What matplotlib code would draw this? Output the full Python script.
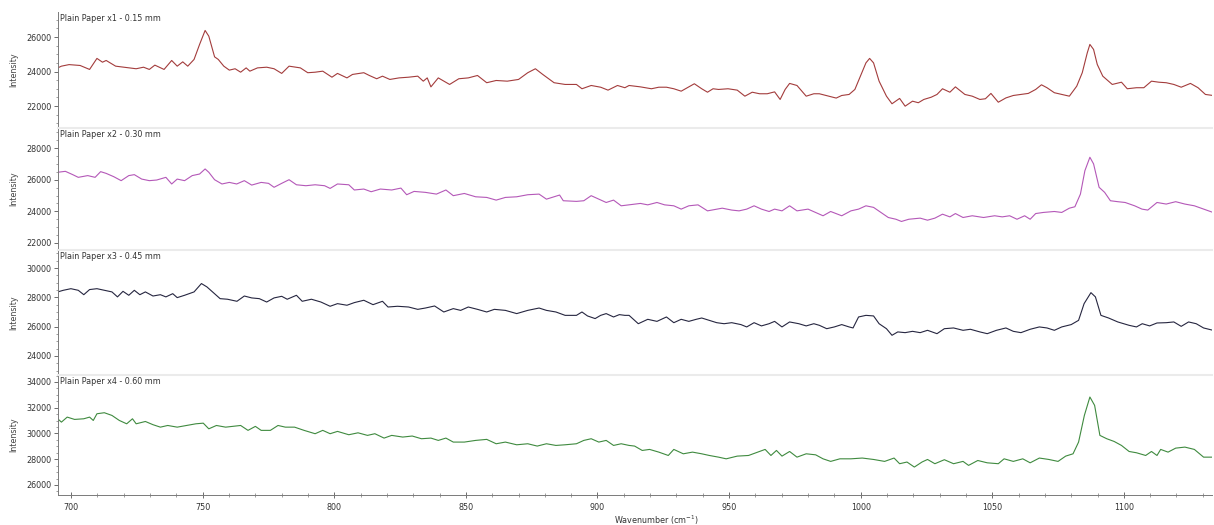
import matplotlib
matplotlib.use("Agg")
import matplotlib.pyplot as plt
from matplotlib.ticker import AutoMinorLocator, MultipleLocator

# ---- data (wavenumber cm-1, intensity) ----
wn1 = [694.9, 696.3, 699.2, 703.4, 707.0, 709.8, 711.9, 713.3, 716.9, 721.9, 724.7, 727.5, 729.7, 731.8,
       735.3, 738.2, 740.3, 742.4, 744.3, 746.7, 748.8, 750.9, 752.3, 754.5, 755.9, 758.0, 760.1, 762.3,
       764.4, 766.5, 767.9, 770.8, 774.3, 777.1, 780.0, 782.8, 787.1, 789.9, 792.7, 795.6, 799.1, 801.2,
       804.8, 806.9, 811.2, 813.3, 816.1, 818.3, 821.1, 824.6, 828.2, 831.7, 833.8, 835.3, 836.7, 839.5,
       843.8, 847.3, 850.9, 854.4, 857.9, 861.5, 865.7, 870.0, 873.5, 876.4, 879.2, 883.5, 887.7, 892.0,
       894.1, 897.6, 901.2, 904.0, 907.6, 910.4, 912.0, 916.3, 920.5, 923.3, 926.2, 929.0, 931.8, 934.7,
       936.8, 939.6, 941.8, 943.9, 946.0, 949.6, 953.1, 956.0, 958.8, 961.6, 964.5, 967.3, 969.4, 971.3,
       973.0, 975.8, 979.3, 982.2, 984.3, 987.8, 990.7, 992.8, 995.6, 997.8, 999.9, 1002.0, 1003.4, 1004.9,
       1007.0, 1009.8, 1011.9, 1014.8, 1016.9, 1019.7, 1021.9, 1024.0, 1026.8, 1029.0, 1031.1, 1033.9,
       1036.0, 1039.6, 1042.4, 1045.3, 1047.4, 1049.5, 1052.3, 1055.2, 1058.0, 1060.9, 1063.7, 1066.5,
       1068.7, 1070.8, 1073.6, 1076.4, 1079.3, 1082.1, 1084.2, 1086.1, 1087.1, 1088.5, 1089.9, 1092.0,
       1095.6, 1099.1, 1101.3, 1104.8, 1107.6, 1110.5, 1113.3, 1116.1, 1119.0, 1121.8, 1125.3, 1128.2,
       1131.0, 1133.9]
int1 = [24210, 24310, 24400, 24350, 24120, 24760, 24540, 24640, 24310, 24210, 24160, 24250, 24120, 24370,
        24120, 24640, 24310, 24560, 24310, 24700, 25570, 26380, 26050, 24850, 24700, 24310, 24080, 24160,
        23960, 24210, 24020, 24210, 24250, 24160, 23890, 24310, 24210, 23930, 23960, 24020, 23670, 23890,
        23630, 23830, 23930, 23770, 23580, 23730, 23540, 23630, 23670, 23730, 23440, 23630, 23110, 23630,
        23250, 23580, 23630, 23770, 23350, 23480, 23440, 23540, 23930, 24160, 23830, 23350, 23250, 23250,
        23000, 23190, 23090, 22920, 23190, 23060, 23190, 23110, 23000, 23090, 23090, 23000, 22860, 23110,
        23290, 23000, 22800, 23000, 22960, 23000, 22920, 22570, 22800, 22710, 22710, 22820, 22380, 22960,
        23310, 23190, 22570, 22710, 22710, 22570, 22460, 22610, 22670, 22960, 23730, 24500, 24760, 24500,
        23440, 22570, 22130, 22440, 21990, 22280, 22190, 22380, 22510, 22670, 23000, 22800,
        23110, 22670, 22570, 22380, 22420, 22730, 22220, 22470, 22610, 22670, 22730, 22960,
        23230, 23060, 22770, 22670, 22570, 23150, 23930, 25080, 25570, 25280, 24410, 23730,
        23250, 23380, 23000, 23060, 23060, 23440, 23380, 23350, 23250, 23090, 23310, 23060,
        22670, 22610]

wn2 = [694.9, 697.8, 700.6, 702.7, 706.3, 709.1, 711.2, 713.3, 716.2, 719.0, 721.9, 724.0, 726.8, 729.7,
       732.5, 736.0, 738.2, 740.3, 743.1, 746.0, 748.8, 750.9, 752.3, 754.5, 757.3, 760.1, 762.9, 765.8,
       768.6, 772.2, 775.0, 777.1, 780.0, 782.8, 785.6, 789.2, 792.7, 796.3, 798.4, 801.2, 805.5, 807.6,
       811.2, 814.0, 817.5, 821.8, 825.3, 827.5, 830.3, 834.6, 838.8, 842.4, 845.2, 849.4, 853.7, 857.9,
       861.5, 865.0, 869.3, 873.5, 877.8, 880.6, 885.6, 887.0, 892.0, 894.8, 897.6, 900.5, 903.3, 906.1,
       909.0, 912.0, 916.3, 919.1, 922.6, 925.5, 929.0, 931.8, 934.7, 938.2, 941.8, 945.3, 947.4, 951.0,
       953.8, 956.7, 959.5, 962.3, 965.2, 967.3, 970.1, 973.0, 975.8, 980.0, 982.9, 985.7, 988.6, 992.8,
       996.3, 999.2, 1002.0, 1004.9, 1007.7, 1010.5, 1013.4, 1015.5, 1018.3, 1022.6, 1025.4, 1028.2,
       1031.1, 1033.9, 1036.0, 1038.9, 1042.4, 1046.7, 1050.9, 1053.8, 1056.6, 1059.4, 1062.3, 1064.4,
       1066.5, 1069.4, 1073.6, 1076.4, 1079.3, 1081.4, 1083.5, 1085.2, 1087.1, 1088.5, 1090.6, 1092.7,
       1094.9, 1097.7, 1100.5, 1104.1, 1106.9, 1109.1, 1112.6, 1116.1, 1119.7, 1123.2, 1126.8, 1130.3,
       1133.9]
int2 = [26470, 26530, 26320, 26150, 26260, 26150, 26510, 26400, 26190, 25940, 26260, 26320, 26040, 25940,
        25980, 26150, 25730, 26040, 25940, 26260, 26360, 26680, 26470, 26000, 25730, 25830, 25730, 25940,
        25660, 25830, 25770, 25520, 25770, 26000, 25680, 25620, 25680, 25620, 25450, 25730, 25680, 25350,
        25410, 25240, 25410, 25350, 25470, 25050, 25260, 25200, 25090, 25350, 24990, 25130, 24920, 24880,
        24710, 24880, 24920, 25050, 25090, 24770, 25030, 24670, 24630, 24670, 24990, 24770, 24560, 24710,
        24350, 24410, 24500, 24410, 24560, 24410, 24350, 24140, 24350, 24410, 24030, 24140, 24200, 24080,
        24030, 24140, 24350, 24140, 23990, 24140, 24030, 24350, 24030, 24140, 23930, 23720, 23990, 23720,
        24030, 24140, 24350, 24250, 23930, 23610, 23500, 23360, 23500, 23570, 23440, 23570,
        23820, 23650, 23860, 23610, 23720, 23610, 23720, 23650, 23720, 23500, 23720, 23500,
        23860, 23930, 23990, 23930, 24200, 24290, 25090, 26570, 27420, 27000, 25520, 25200,
        24670, 24610, 24560, 24350, 24140, 24080, 24560, 24460, 24610, 24460, 24350, 24140,
        23930]

wn3 = [694.9, 697.0, 699.9, 702.7, 704.8, 707.0, 709.8, 712.6, 715.5, 717.6, 719.7, 721.9, 724.0, 726.1,
       728.2, 731.1, 733.9, 736.0, 738.6, 740.3, 743.1, 746.7, 749.5, 751.6, 754.5, 756.6, 759.4, 763.0,
       765.8, 768.6, 771.5, 774.3, 777.1, 780.0, 782.1, 785.6, 787.8, 791.3, 794.9, 798.4, 801.2, 804.8,
       807.6, 811.2, 814.7, 818.3, 820.4, 824.0, 828.2, 831.7, 834.6, 838.1, 841.6, 845.2, 848.0, 850.9,
       854.4, 857.9, 860.8, 865.0, 869.3, 873.5, 877.8, 880.6, 884.2, 887.7, 892.0, 894.1, 896.2, 899.1,
       901.2, 903.3, 906.1, 908.3, 910.4, 912.0, 915.5, 919.1, 922.6, 926.2, 929.0, 931.8, 934.7, 937.5,
       939.6, 942.5, 945.3, 948.1, 951.0, 954.5, 956.7, 959.5, 962.3, 965.2, 967.3, 970.1, 973.0, 976.5,
       979.3, 982.2, 984.3, 987.1, 990.0, 992.8, 995.6, 997.1, 999.2, 1002.0, 1004.9, 1007.0, 1009.8,
       1011.9, 1014.1, 1016.9, 1019.7, 1022.6, 1025.4, 1029.0, 1031.8, 1035.3, 1038.9, 1041.7, 1045.3,
       1048.1, 1051.6, 1055.2, 1058.0, 1060.9, 1064.4, 1067.9, 1070.8, 1073.6, 1076.4, 1080.0, 1082.8,
       1084.9, 1087.5, 1089.2, 1091.3, 1094.2, 1097.7, 1102.0, 1104.8, 1107.0, 1109.8, 1112.6, 1116.1,
       1119.0, 1121.8, 1124.6, 1127.5, 1130.3, 1133.9]
int3 = [28370, 28480, 28590, 28480, 28180, 28530, 28590, 28480, 28370, 28030, 28410, 28140, 28480, 28180,
        28370, 28090, 28180, 28030, 28250, 27980, 28140, 28370, 28940, 28710, 28250, 27910, 27870, 27730,
        28090, 27960, 27910, 27680, 27960, 28070, 27870, 28140, 27730, 27870, 27680, 27390, 27570, 27460,
        27640, 27800, 27500, 27730, 27340, 27390, 27340, 27180, 27270, 27410, 27000, 27230, 27110, 27340,
        27180, 27000, 27180, 27110, 26890, 27110, 27270, 27110, 27000, 26770, 26770, 27000, 26730, 26550,
        26770, 26890, 26660, 26820, 26770, 26770, 26200, 26500, 26360, 26660, 26270, 26500, 26360, 26500,
        26590, 26430, 26270, 26200, 26270, 26140, 25980, 26270, 26050, 26200, 26360, 25980, 26320, 26200,
        26050, 26200, 26090, 25860, 25980, 26140, 25980, 25910, 26660, 26770, 26730, 26200, 25860,
        25410, 25640, 25590, 25680, 25590, 25750, 25520, 25860, 25910, 25750, 25820, 25640,
        25520, 25750, 25910, 25680, 25590, 25820, 25980, 25910, 25750, 25980, 26140, 26430,
        27570, 28320, 28030, 26770, 26590, 26320, 26090, 25980, 26200, 26050, 26250, 26270,
        26320, 26020, 26320, 26200, 25910, 25750]

wn4 = [694.9, 696.3, 698.5, 701.3, 704.8, 707.0, 708.4, 709.8, 712.6, 715.5, 718.3, 721.1, 723.3, 724.7,
       728.2, 731.1, 733.9, 736.7, 740.3, 743.8, 747.4, 750.2, 752.3, 755.2, 758.7, 761.5, 764.4, 767.2,
       770.0, 772.2, 775.7, 778.6, 781.4, 784.9, 788.5, 792.7, 795.6, 798.4, 801.2, 805.5, 809.0, 812.6,
       815.4, 818.9, 821.8, 826.0, 829.6, 833.1, 836.7, 839.5, 842.4, 845.2, 849.4, 853.7, 857.9, 861.5,
       865.0, 869.3, 873.5, 877.1, 880.6, 884.2, 887.7, 892.0, 894.8, 897.6, 900.5, 903.3, 906.1, 909.0,
       912.0, 914.1, 917.0, 919.8, 923.3, 926.9, 929.0, 932.6, 936.1, 939.6, 942.5, 946.0, 948.9, 953.1,
       957.4, 960.2, 963.7, 965.9, 968.0, 970.1, 973.0, 975.8, 979.3, 982.9, 985.7, 988.6, 992.1, 996.3,
       1000.6, 1004.9, 1009.1, 1012.7, 1014.8, 1017.6, 1020.4, 1023.3, 1025.4, 1028.2, 1031.8, 1035.3,
       1038.9, 1041.0, 1044.5, 1048.1, 1052.3, 1054.5, 1058.0, 1061.6, 1064.4, 1067.9, 1071.5, 1075.0,
       1077.9, 1080.7, 1082.8, 1085.0, 1087.1, 1088.9, 1090.9, 1093.5, 1096.3, 1099.1, 1102.0, 1104.8,
       1108.3, 1110.5, 1112.6, 1114.0, 1116.8, 1119.7, 1123.2, 1126.8, 1130.3, 1133.9]
int4 = [31140, 30880, 31270, 31090, 31140, 31270, 31010, 31530, 31610, 31400, 31010, 30750, 31140, 30750,
        30930, 30680, 30490, 30620, 30490, 30620, 30750, 30800, 30360, 30620, 30490, 30550, 30620, 30240,
        30550, 30240, 30240, 30620, 30490, 30490, 30240, 29980, 30240, 29980, 30160, 29900, 30050, 29850,
        29980, 29640, 29850, 29720, 29800, 29590, 29640, 29460, 29640, 29330, 29330, 29460, 29540, 29200,
        29330, 29120, 29200, 29020, 29200, 29070, 29120, 29200, 29460, 29590, 29330, 29460, 29070, 29200,
        29070, 29020, 28680, 28760, 28550, 28290, 28760, 28420, 28550, 28420, 28290, 28160, 28030, 28240,
        28290, 28500, 28760, 28290, 28680, 28240, 28600, 28160, 28420, 28340, 28030, 27830, 28030, 28030,
        28090, 27980, 27830, 28090, 27650, 27780, 27390, 27780, 27980, 27650, 27960, 27650,
        27830, 27520, 27900, 27720, 27650, 28030, 27830, 28030, 27720, 28090, 27980, 27830,
        28240, 28420, 29330, 31400, 32830, 32180, 29850, 29590, 29380, 29070, 28600, 28500,
        28290, 28600, 28290, 28760, 28550, 28860, 28940, 28760, 28160, 28160]

titles = ["Plain Paper x1 - 0.15 mm", "Plain Paper x2 - 0.30 mm",
          "Plain Paper x3 - 0.45 mm", "Plain Paper x4 - 0.60 mm"]
series = [(wn1, int1), (wn2, int2), (wn3, int3), (wn4, int4)]
colors = ["#a33c3c", "#b458b8", "#262640", "#3f8a3f"]
ylims = [(20725, 27450), (21555, 29270), (22700, 31230), (25220, 34540)]
yticks = [[22000, 24000, 26000], [22000, 24000, 26000, 28000],
          [24000, 26000, 28000, 30000], [26000, 28000, 30000, 32000, 34000]]

# panel edges in pixels from top of the 525 px high figure
edges = [12, 128, 250, 375, 495]

plt.rcParams["font.family"] = "DejaVu Sans"
fig = plt.figure(figsize=(12.14, 5.25), dpi=100)
W, H = 1214.0, 525.0
left, right = 58 / W, 1212 / W

axes = []
for i in range(4):
    top = 1 - edges[i] / H
    bot = 1 - edges[i + 1] / H
    ax = fig.add_axes([left, bot, right - left, top - bot])
    wn, inten = series[i]
    ax.plot(wn, inten, color=colors[i], lw=0.8)
    ax.set_xlim(695, 1133.5)
    ax.set_ylim(*ylims[i])
    ax.set_yticks(yticks[i])
    ax.yaxis.set_minor_locator(AutoMinorLocator(4))
    ax.tick_params(axis="y", which="major", labelsize=5.8, length=3, width=0.6,
                   colors="#555555", labelcolor="#333333", pad=1.5)
    ax.tick_params(axis="y", which="minor", length=1.5, width=0.5, colors="#777777")
    ax.set_ylabel("Intensity", fontsize=5.8, color="#444444", labelpad=6)
    ax.spines["right"].set_visible(False)
    ax.spines["left"].set_color("#7a7a7a")
    ax.spines["left"].set_linewidth(0.7)
    if i == 0:
        ax.spines["top"].set_visible(False)
    else:
        ax.spines["top"].set_color("#ebebeb")
        ax.spines["top"].set_linewidth(1.5)
    ax.text(0.002, 0.985, titles[i], transform=ax.transAxes, ha="left", va="top",
            fontsize=5.8, color="#333333")
    ax.xaxis.set_major_locator(MultipleLocator(50))
    ax.xaxis.set_minor_locator(MultipleLocator(10))
    if i < 3:
        ax.spines["bottom"].set_visible(False)
        ax.tick_params(axis="x", which="both", bottom=False, labelbottom=False)
    else:
        ax.spines["bottom"].set_color("#7a7a7a")
        ax.spines["bottom"].set_linewidth(0.7)
        ax.tick_params(axis="x", which="major", direction="inout", length=5, width=0.6,
                       labelsize=5.8, colors="#555555", labelcolor="#333333", pad=3)
        ax.tick_params(axis="x", which="minor", direction="inout", length=2.5, width=0.5,
                       colors="#777777")
        ax.set_xlabel("Wavenumber (cm$^{-1}$)", fontsize=5.8, color="#333333")
        ax.xaxis.set_label_coords(0.518, -0.155)
    axes.append(ax)

fig.align_ylabels(axes)
fig.savefig("out.png", dpi=100)
